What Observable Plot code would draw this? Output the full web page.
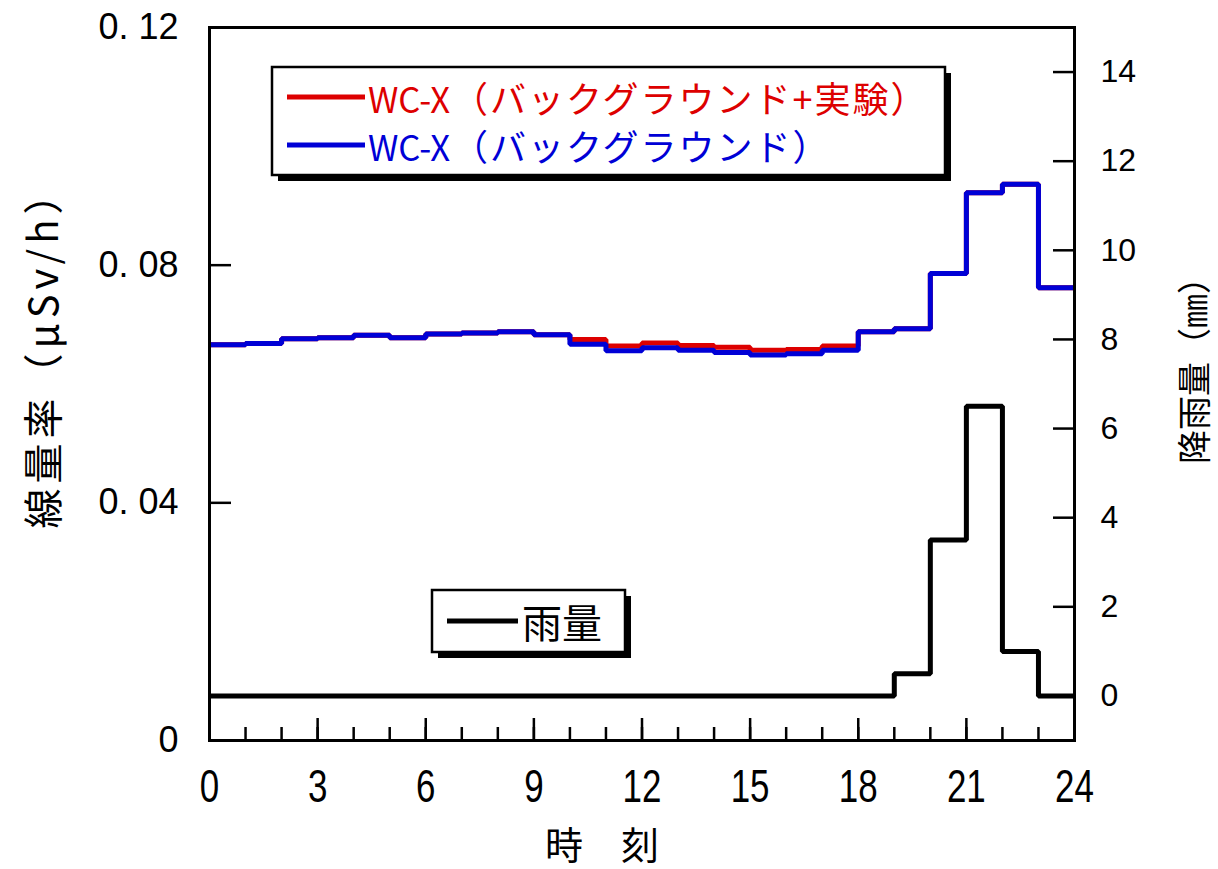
<!DOCTYPE html>
<html><head><meta charset="utf-8">
<script src="https://cdn.jsdelivr.net/npm/d3@7"></script>
<script src="https://cdn.jsdelivr.net/npm/@observablehq/plot@0.6"></script>
<style>
body{margin:0;background:#fff;}
#wrap{position:relative;width:1218px;height:869px;overflow:hidden;}
#wrap > svg{position:absolute;left:0;top:0;}
</style></head><body><div id="wrap"></div>
<script>
// ---- data ----
const hours = [0,1,2,3,4,5,6,7,8,9,10,11,12,13,14,15,16,17,18,19,20,21,22,23];
const background = [0.0666,0.0668,0.0676,0.0678,0.0682,0.0678,0.0684,0.0686,0.0688,0.0683,
  0.0667,0.0656,0.0661,0.0657,0.0653,0.0649,0.0651,0.0657,0.0688,0.0693,0.0786,0.0922,0.0936,0.0762];
const withExperiment = [0.0666,0.0668,0.0676,0.0678,0.0682,0.0678,0.0684,0.0686,0.0688,0.0683,
  0.0675,0.0664,0.0669,0.0665,0.0662,0.0657,0.0658,0.0664,0.0688,0.0693,0.0786,0.0922,0.0936,0.0762];
const rain = [0,0,0,0,0,0,0,0,0,0,0,0,0,0,0,0,0,0,0,0.5,3.5,6.5,1.0,0];
const xMajorTicks = [0,3,6,9,12,15,18,21,24];
const xMinorTicks = [0,1,2,3,4,5,6,7,8,9,10,11,12,13,14,15,16,17,18,19,20,21,22,23,24];
const doseTicks = [0,0.04,0.08,0.12];
const rainTicks = [0,2,4,6,8,10,12,14];
const doseDomain = [0,0.12];
const rainDomain = [-1,15];
const xDomain = [0,24];
const seriesLabels = ["WC-X（バックグラウンド+実験）","WC-X（バックグラウンド）","雨量"];
const axisTitles = {x: "時　刻", left: "線量率（μSv/h）", right: "降雨量（㎜）"};
const colors = {red:"#dd0000", blue:"#0000d6", black:"#000000"};

// ---- helpers ----
const toDose = r => (r - rainDomain[0]) / (rainDomain[1]-rainDomain[0]) * (doseDomain[1]-doseDomain[0]) + doseDomain[0];
const fromDose = d => Math.round((d - doseDomain[0]) / (doseDomain[1]-doseDomain[0]) * (rainDomain[1]-rainDomain[0]) + rainDomain[0]);
const stepData = vals => hours.map((h,i)=>({h, v: vals[i]})).concat([{h: hours[hours.length-1]+1, v: vals[vals.length-1]}]);
const fmtDose = d => d === 0 ? "0" : d.toFixed(2).replace(".", ". ");

const tickFont = "Liberation Sans, Arial, sans-serif";
const lineOpts = {x:"h", curve:"step-after", strokeWidth: 5, strokeLinejoin:"miter", strokeLinecap:"butt"};

const chart = Plot.plot({
  width: 1218, height: 869,
  marginLeft: 209, marginRight: 144, marginTop: 27, marginBottom: 129,
  style: {background: "transparent", fontFamily: tickFont, color: "#000"},
  x: {domain: xDomain},
  y: {domain: doseDomain},
  marks: [
    Plot.line(stepData(withExperiment), {...lineOpts, y:"v", stroke: colors.red}),
    Plot.line(stepData(background), {...lineOpts, y:"v", stroke: colors.blue}),
    Plot.line(stepData(rain), {...lineOpts, y: d => toDose(d.v), stroke: colors.black}),
    // x axis ticks (inward) and labels
    Plot.axisX(xMinorTicks, {anchor:"bottom", tickSize: -13, strokeWidth: 2.5, text: null, label: null}),
    Plot.axisX(xMajorTicks, {anchor:"bottom", tickSize: -22, strokeWidth: 2.5, text: null, label: null}),
    Plot.axisX(xMajorTicks, {anchor:"bottom", tickSize: 0, label: null, tickPadding: 29, fontSize: 46}),
    // left axis
    Plot.axisY(doseTicks, {anchor:"left", tickSize: -22, strokeWidth: 2.5, text: null, label: null}),
    Plot.axisY(doseTicks, {anchor:"left", tickSize: 0, label: null, tickFormat: fmtDose, tickPadding: 31, fontSize: 36}),
    // right axis (rain)
    Plot.axisY(rainTicks.map(toDose), {anchor:"right", tickSize: -22, strokeWidth: 2.5, text: null, label: null}),
    Plot.axisY(rainTicks.map(toDose), {anchor:"right", tickSize: 0, label: null, tickFormat: fromDose, tickPadding: 26, fontSize: 32}),
    Plot.frame({stroke: "#000", strokeWidth: 3})
  ]
});
document.getElementById("wrap").appendChild(chart);

// condense x tick labels (narrow font look): scale each label horizontally about its anchor
chart.querySelectorAll('g[aria-label*="x-axis"] text').forEach(t => {
  const b = t.getBBox();
  const cx = b.x + b.width / 2;
  const prev = t.getAttribute("transform") || "";
  t.setAttribute("transform", `${prev} translate(${cx},0) scale(0.76,1) translate(${-cx},0)`);
});

// ---- overlay: legends and axis titles ----
const ov = d3.select("#wrap").append("svg").attr("width",1218).attr("height",869);
const jp = "'Noto Sans CJK JP', sans-serif";

function box(x,y,w,h){
  ov.append("rect").attr("x",x+6).attr("y",y+6).attr("width",w).attr("height",h).attr("fill","#000");
  ov.append("rect").attr("x",x).attr("y",y).attr("width",w).attr("height",h).attr("fill","#fff").attr("stroke","#000").attr("stroke-width",2.5);
}
box(272,67,673,108);
function entry(y, color, label){
  ov.append("line").attr("x1",287).attr("x2",365).attr("y1",y).attr("y2",y).attr("stroke",color).attr("stroke-width",5);
  const idx = label.indexOf("（");
  ov.append("text").attr("x",368).attr("y",y).attr("dominant-baseline","central").attr("fill",color)
    .style("font-family",jp).style("font-size","35px").attr("textLength",82).attr("lengthAdjust","spacingAndGlyphs")
    .text(label.slice(0, idx));
  ov.append("text").attr("x",452).attr("y",y).attr("dominant-baseline","central").attr("fill",color)
    .style("font-family",jp).style("font-size","36px").style("letter-spacing","2px")
    .text(label.slice(idx));
}
entry(97, colors.red, seriesLabels[0]);
entry(145, colors.blue, seriesLabels[1]);

box(432,590,193,62);
ov.append("line").attr("x1",447).attr("x2",518).attr("y1",621).attr("y2",621).attr("stroke","#000").attr("stroke-width",5);
ov.append("text").attr("x",522).attr("y",621).attr("dominant-baseline","central").style("font-family",jp).style("font-size","40px").text(seriesLabels[2]);

ov.append("text").attr("transform","translate(41,349) rotate(-90)").attr("text-anchor","middle").attr("dominant-baseline","central")
  .style("font-family",jp).style("font-size","40px").style("letter-spacing","5px").text(axisTitles.left);
ov.append("text").attr("transform","translate(1192,362) rotate(-90)").attr("text-anchor","middle").attr("dominant-baseline","central")
  .style("font-family",jp).style("font-size","34px").text(axisTitles.right);
ov.append("text").attr("x",602).attr("y",842).attr("text-anchor","middle").attr("dominant-baseline","central")
  .style("font-family",jp).style("font-size","38px").text(axisTitles.x);
</script></body></html>
